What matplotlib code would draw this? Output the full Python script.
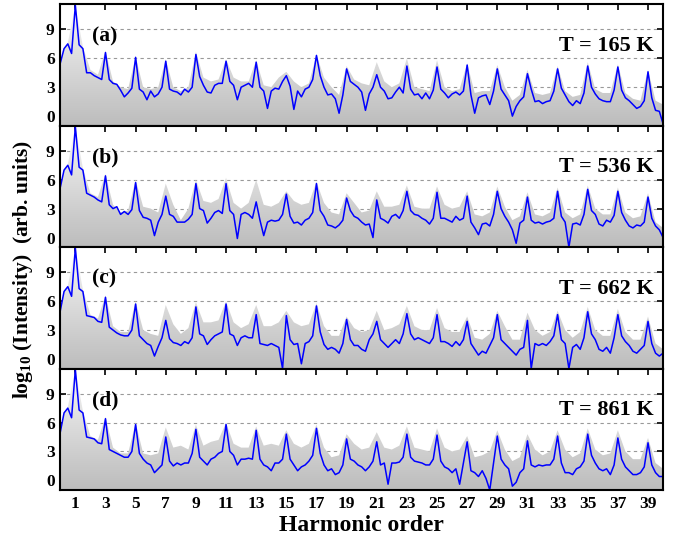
import numpy as np
import matplotlib
matplotlib.use("Agg")
import matplotlib.pyplot as plt
from matplotlib.colors import LinearSegmentedColormap

# harmonic axis: blue spectra sampled every 0.25, grey spectra every 0.5
h_blue = np.arange(0, 40.001, 0.25)
h_grey = np.arange(0, 40.001, 0.5)

blue_a = [5.5, 7.0, 7.5, 6.5, 11.5, 7.4, 7.0, 4.5,
          4.5, 4.2, 4.0, 3.8, 6.6, 3.8, 3.4, 3.3,
          2.7, 2.0, 2.4, 2.9, 6.1, 2.8, 2.5, 1.7,
          2.6, 2.0, 2.3, 3.0, 5.7, 2.8, 2.6, 2.5,
          2.2, 2.8, 2.5, 3.0, 6.4, 4.1, 3.2, 2.5,
          2.4, 3.2, 3.4, 3.4, 5.7, 3.6, 3.2, 1.7,
          3.0, 3.2, 3.4, 3.0, 5.6, 3.0, 2.6, 0.8,
          2.6, 2.9, 2.8, 3.6, 4.2, 3.1, 0.7, 2.6,
          2.0, 2.8, 3.0, 3.8, 6.3, 4.2, 3.0, 2.2,
          2.3, 1.8, 0.3, 2.2, 4.9, 3.6, 3.3, 3.0,
          2.5, 0.6, 2.3, 3.0, 4.3, 3.0, 2.6, 1.8,
          1.9, 2.5, 3.0, 2.4, 5.2, 2.8, 2.2, 2.3,
          1.8, 2.4, 1.8, 2.7, 5.1, 2.8, 2.4, 1.9,
          2.3, 2.5, 2.2, 2.6, 5.3, 2.2, 0.3, 1.9,
          2.1, 2.2, 1.2, 2.6, 4.9, 2.8, 2.2, 1.6,
          0.0, 1.0, 1.6, 2.0, 4.4, 2.8, 1.5, 1.6,
          1.3, 1.5, 1.6, 2.6, 4.9, 2.9, 2.2, 1.5,
          1.1, 1.6, 1.3, 2.4, 5.2, 3.0, 2.3, 1.8,
          1.6, 1.5, 1.5, 2.7, 5.1, 2.7, 1.9, 1.6,
          1.2, 0.8, 1.0, 1.6, 4.6, 1.9, 0.6, 0.5,
          -0.8]

blue_b = [5.2, 7.0, 7.5, 6.5, 11.5, 7.3, 7.0, 4.6,
          4.4, 4.2, 3.9, 3.7, 6.4, 3.4, 3.0, 3.2,
          2.4, 2.7, 2.4, 2.9, 5.7, 2.8, 2.1, 2.0,
          1.8, 0.2, 1.6, 2.4, 4.3, 2.4, 2.2, 1.6,
          1.6, 1.6, 1.9, 2.4, 5.6, 3.0, 2.8, 1.5,
          2.0, 2.6, 2.8, 2.5, 5.6, 2.8, 2.4, -0.1,
          2.4, 2.6, 2.4, 2.0, 3.7, 1.8, 0.2, 1.6,
          1.8, 1.7, 1.8, 2.4, 4.5, 2.2, 1.5, 1.6,
          1.3, 1.8, 2.0, 2.6, 5.6, 2.8, 2.2, 1.3,
          1.2, 1.0, 1.3, 1.8, 4.1, 2.8, 2.2, 2.0,
          1.6, 1.3, 1.4, 0.0, 3.9, 2.0, 1.8, 1.5,
          2.2, 2.4, 2.0, 2.8, 4.8, 2.8, 2.4, 2.3,
          2.0, 1.8, 1.4, 2.0, 4.7, 2.0, 2.0, 1.8,
          1.6, 2.2, 1.8, 2.0, 4.3, 1.6, 1.0, 0.3,
          1.4, 1.5, 1.2, 2.4, 4.8, 3.0, 2.2, 1.6,
          0.8, -0.6, 1.5, 1.8, 4.2, 1.8, 1.5, 1.6,
          1.4, 1.6, 1.7, 2.0, 4.8, 2.2, 1.6, -1.0,
          1.4, 1.5, 1.3, 2.4, 5.0, 2.8, 2.4, 1.4,
          1.2, 1.8, 1.6, 2.3, 4.8, 2.6, 1.8, 1.2,
          1.0, 1.3, 1.2, 1.6, 4.2, 2.0, 1.2, 0.8,
          0.0]

blue_c = [5.0, 7.0, 7.5, 6.5, 11.5, 7.3, 7.0, 4.5,
          4.4, 4.3, 3.9, 3.8, 6.4, 3.3, 3.0, 2.7,
          2.5, 2.4, 2.4, 3.0, 5.7, 2.4, 2.0, 1.6,
          1.4, 0.3, 1.3, 2.2, 4.0, 2.1, 1.7, 1.6,
          1.4, 1.8, 1.6, 2.2, 5.4, 2.6, 2.4, 1.5,
          2.0, 2.4, 2.6, 2.8, 5.7, 2.6, 2.4, 1.4,
          2.2, 2.4, 2.2, 2.2, 4.6, 1.6, 1.5, 1.4,
          1.6, 1.4, 1.2, -1.0, 4.5, 2.0, 1.5, 1.6,
          -0.5, 1.6, 1.8, 2.4, 5.5, 2.8, 1.5, 1.0,
          1.2, 1.0, 0.6, 1.6, 4.1, 2.0, 1.4, 1.4,
          1.0, 0.8, 2.0, 2.6, 3.9, 2.0, 1.6, 1.2,
          1.6, 2.0, 1.6, 2.6, 4.7, 2.6, 2.0, 2.2,
          2.0, 1.8, 1.6, 2.2, 4.6, 1.8, 1.8, 1.6,
          1.3, 1.8, 1.4, 2.0, 3.9, 1.6, 1.0, 0.4,
          0.8, 0.6, 1.4, 2.2, 4.6, 2.0, 1.6, 1.2,
          0.8, 0.4, 1.0, 1.2, 4.0, -1.0, 1.6, 1.4,
          1.6, 1.4, 1.8, 2.4, 4.6, 2.0, 1.6, -1.0,
          1.2, 1.5, 1.0, 2.2, 4.9, 2.6, 2.0, 1.0,
          0.8, 1.2, 0.6, 2.2, 4.6, 2.4, 1.8, 1.4,
          0.8, 0.6, 1.0, 1.4, 3.9, 1.6, 0.6, 0.3,
          0.6]

blue_d = [5.0, 7.0, 7.5, 6.5, 11.5, 7.3, 7.0, 4.5,
          4.4, 4.3, 3.9, 3.8, 6.4, 3.2, 3.0, 2.8,
          2.6, 2.4, 2.4, 3.0, 5.8, 2.8, 2.2, 1.8,
          1.6, 0.8, 1.2, 1.6, 4.5, 2.0, 1.5, 1.8,
          1.6, 1.8, 1.8, 2.8, 5.3, 2.4, 2.0, 1.6,
          2.2, 2.4, 2.8, 3.0, 5.8, 3.0, 2.6, 1.6,
          2.2, 2.2, 2.3, 2.2, 5.2, 2.2, 1.6, 1.4,
          1.0, 1.8, 1.8, 2.2, 4.8, 2.2, 1.6, 1.0,
          1.4, 1.6, 2.0, 2.6, 5.4, 2.8, 1.6, 1.0,
          1.2, 0.6, 0.8, 1.6, 4.3, 2.2, 2.0, 1.6,
          1.4, 1.0, 1.4, 2.0, 4.0, 1.6, 1.8, -0.4,
          1.8, 1.8, 1.9, 2.4, 4.8, 2.4, 2.0, 1.9,
          1.8, 1.6, 1.6, 2.2, 4.7, 2.0, 1.4, 1.2,
          0.8, 1.2, -0.4, 1.8, 4.0, 1.0, 0.8, 0.4,
          1.0, 0.2, -1.0, 1.8, 4.6, 2.2, 1.6, 1.2,
          -0.6, -0.2, 0.8, 1.2, 4.1, 1.6, 1.4, 1.6,
          1.5, 1.6, 1.6, 2.2, 4.6, 1.8, 0.8, 0.8,
          0.6, 1.2, 1.4, 2.0, 4.8, 2.6, 1.8, 1.2,
          1.0, 1.2, 0.6, 1.6, 4.4, 2.2, 1.4, 1.0,
          0.6, 0.6, 0.8, 1.4, 3.9, 1.6, 0.8, 0.4,
          0.4]

grey_a = [5.6, 7.6, 11.5, 7.2, 4.8, 4.3, 6.8, 3.6, 3.0, 2.8, 6.2, 3.0,
          2.8, 3.0, 5.9, 3.0, 2.6, 3.0, 6.7, 4.0, 3.6, 3.8, 5.9, 4.0,
          3.6, 3.6, 5.8, 3.2, 3.0, 4.0, 4.6, 3.6, 3.0, 3.4, 6.4, 4.0,
          3.0, 2.2, 5.2, 3.8, 3.4, 3.2, 5.6, 3.6, 3.0, 3.4, 6.0, 3.0,
          2.8, 2.6, 5.8, 3.0, 2.6, 2.8, 5.5, 2.4, 2.6, 2.6, 5.3, 3.0,
          1.6, 2.2, 4.8, 2.4, 2.2, 2.4, 5.2, 2.6, 2.0, 2.2, 5.6, 2.8,
          2.4, 2.4, 5.4, 2.4, 1.8, 1.6, 4.8, 1.6, 1.2]

grey_b = [5.2, 7.6, 11.5, 7.2, 4.6, 4.2, 6.6, 3.4, 2.6, 2.8, 6.0, 3.2,
          3.0, 2.6, 5.6, 3.4, 1.8, 3.0, 6.0, 3.8, 3.6, 4.0, 6.2, 3.6,
          3.0, 3.6, 6.0, 3.4, 3.2, 3.6, 4.8, 3.8, 3.4, 3.6, 5.8, 3.6,
          2.6, 2.4, 4.6, 3.6, 2.6, 2.8, 4.8, 3.2, 3.2, 3.4, 5.4, 3.2,
          3.0, 3.0, 5.3, 3.4, 3.0, 3.2, 4.8, 2.4, 2.2, 2.6, 5.3, 3.2,
          1.8, 2.2, 4.7, 2.4, 2.2, 2.6, 5.2, 2.6, 2.0, 2.4, 5.4, 3.0,
          2.4, 2.4, 5.2, 2.6, 2.0, 2.2, 4.6, 1.6, 1.0]

grey_c = [5.0, 7.6, 11.5, 7.2, 4.6, 4.2, 6.6, 3.4, 2.8, 2.8, 6.0, 3.0,
          2.6, 2.4, 5.6, 3.6, 2.6, 3.2, 5.9, 3.8, 3.8, 4.0, 6.0, 3.8,
          3.2, 3.6, 5.6, 3.4, 3.4, 3.8, 5.0, 3.8, 3.4, 3.6, 5.8, 3.4,
          2.4, 2.4, 4.4, 3.2, 2.8, 3.0, 5.0, 3.0, 3.2, 3.6, 5.5, 3.4,
          3.0, 3.0, 5.3, 3.2, 2.8, 2.8, 4.4, 2.2, 2.0, 2.6, 5.0, 3.4,
          2.0, 2.0, 4.8, 3.0, 2.4, 2.8, 5.0, 3.0, 2.2, 2.8, 5.4, 3.0,
          2.4, 2.4, 5.2, 2.8, 2.0, 2.0, 4.4, 1.6, 1.0]

grey_d = [5.0, 7.6, 11.5, 7.2, 4.6, 4.2, 6.6, 3.4, 2.8, 2.8, 6.0, 2.8,
          2.6, 2.8, 5.5, 3.4, 3.6, 3.2, 5.8, 3.6, 4.0, 4.2, 6.0, 3.8,
          3.4, 3.4, 5.6, 3.6, 3.8, 3.6, 5.2, 3.8, 3.4, 3.8, 5.8, 3.4,
          2.4, 2.6, 4.8, 3.8, 3.2, 3.4, 5.0, 3.4, 3.2, 3.6, 5.6, 3.4,
          3.2, 3.0, 5.4, 3.4, 3.0, 3.2, 4.6, 2.4, 2.6, 3.0, 5.2, 3.2,
          2.0, 2.4, 4.8, 3.2, 2.6, 3.0, 5.2, 3.2, 2.4, 2.8, 5.4, 3.2,
          2.6, 2.8, 5.2, 3.0, 2.2, 2.2, 4.4, 1.8, 1.2]

panel_labels = ["(a)", "(b)", "(c)", "(d)"]
temps = ["T = 165 K", "T = 536 K", "T = 662 K", "T = 861 K"]
blues = [blue_a, blue_b, blue_c, blue_d]
greys = [grey_a, grey_b, grey_c, grey_d]

plt.rcParams["font.family"] = "Liberation Serif"
plt.rcParams["font.weight"] = "bold"
plt.rcParams["mathtext.fontset"] = "custom"
plt.rcParams["mathtext.rm"] = "Liberation Serif:bold"
plt.rcParams["mathtext.bf"] = "Liberation Serif:bold"

YMIN, YMAX = -1.0, 11.6
grad_cmap = LinearSegmentedColormap.from_list("g", ["#bcbcbc", "#f8f8f8"])
grad = np.linspace(0, 1, 256).reshape(-1, 1)

fig = plt.figure(figsize=(6.85, 5.43), dpi=100)
left, width = 0.088, 0.880
ph = 0.2236
bottom0 = 0.0976

for i in range(4):
    ax = fig.add_axes([left, bottom0 + (3 - i) * ph, width, ph])
    ax.set_xlim(0, 40)
    ax.set_ylim(YMIN, YMAX)

    # gradient fill under both spectra
    for xs, ys in [(h_grey, greys[i]), (h_blue, blues[i])]:
        poly = ax.fill_between(xs, ys, YMIN, facecolor="none", edgecolor="none")
        im = ax.imshow(grad, cmap=grad_cmap, origin="lower", aspect="auto",
                       extent=[0, 40, YMIN, YMAX], zorder=1, interpolation="bilinear")
        im.set_clip_path(poly.get_paths()[0], transform=ax.transData)

    ax.plot(h_blue, blues[i], color="#0000ff", lw=1.1, zorder=3)

    ax.set_xticks(range(1, 40, 2))
    ax.set_yticks([0, 3, 6, 9])
    ax.yaxis.grid(True, linestyle=(0, (3, 3)), color="#999999", lw=0.8)
    ax.set_axisbelow(True)
    ax.tick_params(direction="in", top=True, right=True, length=4, width=1.2,
                   labelsize=12.5, pad=4)
    if i < 3:
        ax.tick_params(labelbottom=False)
    for s in ax.spines.values():
        s.set_linewidth(1.5)
        s.set_zorder(5)

    ax.text(2.1, 8.3, panel_labels[i], fontsize=15.5, ha="left", va="center")
    ax.text(39.4, 7.3, temps[i], fontsize=16, ha="right", va="center")

fig.text(0.033, 0.503, r"log$_{\mathbf{10}}$ (Intensity)  (arb. units)", rotation=90,
         ha="center", va="center", fontsize=15.5)
fig.text(0.527, 0.032, "Harmonic order", ha="center", va="center", fontsize=17)

fig.savefig("out.png", dpi=100)
